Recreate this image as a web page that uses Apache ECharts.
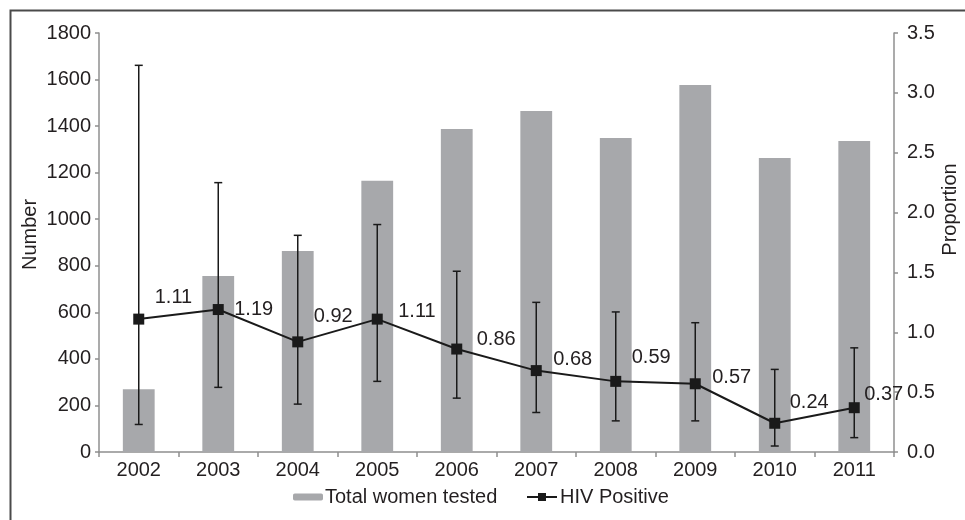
<!DOCTYPE html>
<html>
<head>
<meta charset="utf-8">
<script src="https://cdn.jsdelivr.net/npm/echarts@6/dist/echarts.min.js"></script>
<style>
html,body{margin:0;padding:0;background:#fff;}
#chart{width:965px;height:520px;}
</style>
</head>
<body>
<div id="chart"></div>
<script>
var years = ['2002','2003','2004','2005','2006','2007','2008','2009','2010','2011'];
var totalTested = [270, 756, 863, 1165, 1388, 1465, 1349, 1577, 1263, 1336];
var hivPositive = [1.11, 1.19, 0.92, 1.11, 0.86, 0.68, 0.59, 0.57, 0.24, 0.37];
var ciLow = [0.23, 0.54, 0.40, 0.59, 0.45, 0.33, 0.26, 0.26, 0.05, 0.12];
var ciHigh = [3.23, 2.25, 1.81, 1.90, 1.51, 1.25, 1.17, 1.08, 0.69, 0.87];
var leftTicks = {min: 0, max: 1800, interval: 200};
var rightTicks = {min: 0, max: 3.5, interval: 0.5};

// label placement (style only)
var labelDx = [16, 16, 16, 21, 20, 17, 16, 17, 15, 10];
var labelDy = [-22, 0, -25, -8, -10, -11, -24, -6, -21, -13];

var FONT = 'Liberation Sans, Arial, sans-serif';
var FS = 20;
var TXT = '#231f20';
var AXC = '#8f8f8f';

var chart = echarts.init(document.getElementById('chart'), null, {renderer: 'canvas'});
var option = {
  backgroundColor: '#fff',
  animation: false,
  textStyle: {fontFamily: FONT, color: TXT},
  graphic: [{
    type: 'rect', left: 8, top: 8, silent: true, z: -10,
    shape: {x: 0, y: 0, width: 1000, height: 600},
    style: {fill: 'none', stroke: '#4a4a4a', lineWidth: 2}
  }],
  grid: {left: 99, right: 71, top: 33, bottom: 68, containLabel: false, outerBoundsMode: 'none'},
  legend: [{
    data: ['Total women tested'],
    left: 293, top: 487, padding: 0,
    itemWidth: 30, itemHeight: 7, itemGap: 6,
    textStyle: {fontFamily: FONT, fontSize: FS, color: TXT, padding: [0, 0, 0, -3]}
  }, {
    data: ['HIV Positive'],
    left: 526, top: 487, padding: 0,
    itemWidth: 30, itemHeight: 10, itemGap: 4,
    textStyle: {fontFamily: FONT, fontSize: FS, color: TXT, padding: [0, 0, 0, -2]}
  }],
  xAxis: {
    type: 'category', data: years, boundaryGap: true,
    axisLine: {lineStyle: {color: AXC, width: 1.5}},
    axisTick: {show: true, length: 5, lineStyle: {color: AXC, width: 1.5}},
    axisLabel: {fontFamily: FONT, fontSize: FS, color: TXT, margin: 8}
  },
  yAxis: [{
    type: 'value', min: leftTicks.min, max: leftTicks.max, interval: leftTicks.interval,
    name: 'Number', nameLocation: 'middle', nameGap: 59, nameRotate: 90, nameMoveOverlap: false,
    nameTextStyle: {fontFamily: FONT, fontSize: FS, color: TXT, padding: [0, 0, 0, 16]},
    axisLine: {show: true, lineStyle: {color: AXC, width: 1.5}},
    axisTick: {show: true, length: 4, lineStyle: {color: AXC, width: 1.5}},
    splitLine: {show: false},
    axisLabel: {fontFamily: FONT, fontSize: FS, color: TXT, margin: 8,
      formatter: function (v) { return String(v); }}
  }, {
    type: 'value', min: rightTicks.min, max: rightTicks.max, interval: rightTicks.interval,
    position: 'right',
    name: 'Proportion', nameLocation: 'middle', nameGap: 46, nameRotate: 90, nameMoveOverlap: false,
    nameTextStyle: {fontFamily: FONT, fontSize: FS, color: TXT, padding: [0, 0, 0, 66]},
    axisLine: {show: true, lineStyle: {color: AXC, width: 1.5}},
    axisTick: {show: true, length: 4, lineStyle: {color: AXC, width: 1.5}},
    splitLine: {show: false},
    axisLabel: {fontFamily: FONT, fontSize: FS, color: TXT, margin: 13,
      formatter: function (v) { return v.toFixed(1); }}
  }],
  series: [{
    name: 'Total women tested', type: 'bar', data: totalTested, yAxisIndex: 0,
    barWidth: '40%',
    itemStyle: {color: '#a7a8ab'}, z: 1
  }, {
    name: 'CI', type: 'custom', yAxisIndex: 1, z: 3,
    data: years.map(function (y, i) { return [i, ciLow[i], ciHigh[i]]; }),
    renderItem: function (params, api) {
      var lo = api.coord([api.value(0), api.value(1)]);
      var hi = api.coord([api.value(0), api.value(2)]);
      var w = 4;
      var st = {stroke: '#1a1a1a', lineWidth: 1.5, fill: 'none'};
      return {type: 'group', children: [
        {type: 'line', shape: {x1: lo[0], y1: lo[1], x2: hi[0], y2: hi[1]}, style: st},
        {type: 'line', shape: {x1: lo[0] - w, y1: lo[1], x2: lo[0] + w, y2: lo[1]}, style: st},
        {type: 'line', shape: {x1: hi[0] - w, y1: hi[1], x2: hi[0] + w, y2: hi[1]}, style: st}
      ]};
    },
    silent: true
  }, {
    name: 'HIV Positive', type: 'line', yAxisIndex: 1, z: 5,
    data: hivPositive.map(function (v, i) {
      return {value: v, label: {offset: [labelDx[i], labelDy[i]]}};
    }),
    symbol: 'rect', symbolSize: 11,
    lineStyle: {color: '#1a1a1a', width: 2},
    itemStyle: {color: '#1a1a1a'},
    label: {show: true, position: 'inside', align: 'left', verticalAlign: 'middle',
      fontFamily: FONT, fontSize: FS, color: TXT,
      formatter: function (p) { return p.value.toFixed(2); }}
  }]
};
chart.setOption(option);
</script>
</body>
</html>
